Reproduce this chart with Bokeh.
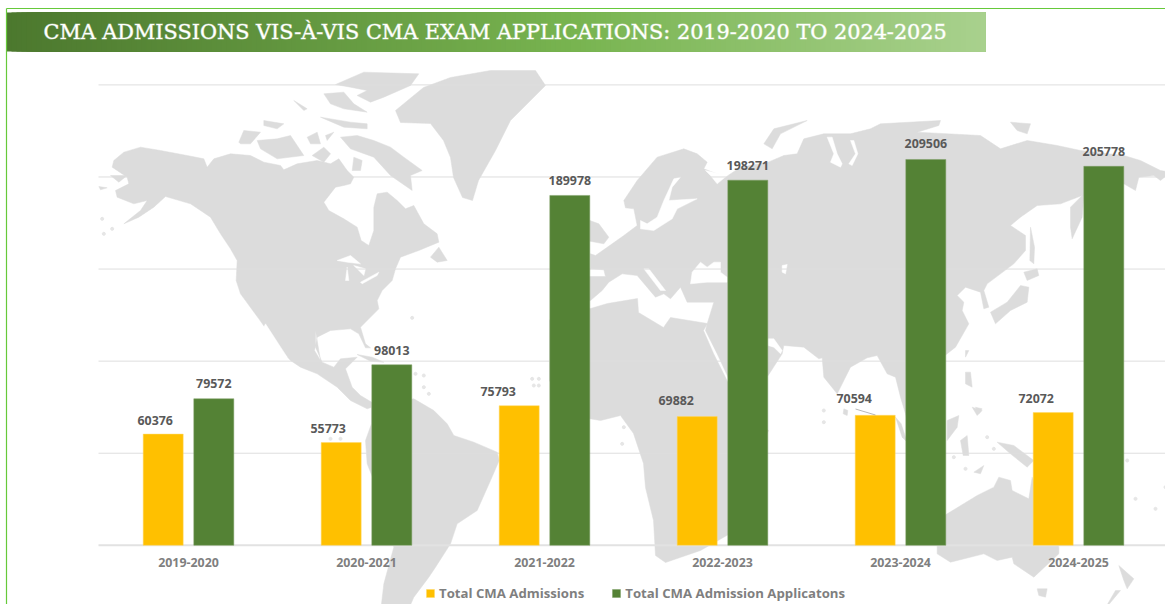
from bokeh.plotting import figure
from bokeh.embed import file_html
from bokeh.resources import INLINE
from bokeh.models import Range1d, LinearAxis, FixedTicker, Legend, LegendItem
from bokeh.core.properties import value

YEARS = ["2019-2020", "2020-2021", "2021-2022", "2022-2023", "2023-2024", "2024-2025"]
ADMISSIONS = [60376, 55773, 75793, 69882, 70594, 72072]
APPLICATIONS = [79572, 98013, 189978, 198271, 209506, 205778]
GRID_VALUES = [0, 50000, 100000, 150000, 200000, 250000]
TITLE = "CMA ADMISSIONS VIS-À-VIS CMA EXAM APPLICATIONS: 2019-2020 TO 2024-2025"
SERIES_NAMES = ["Total CMA Admissions", "Total CMA Admission Applicatons"]

# decorative world map in page pixels
Z5, Z6, Z7, Z8, Z3 = (90, 60), (300, 330), (540, 120), (840, 120), (780, 380)
def tr(z, pts):
    return [(z[0] + a / 3, z[1] + b / 3) for a, b in pts]

NORTH_AMERICA = tr(Z5, [(65,320),(70,300),(100,275),(150,260),(210,270),(290,285),(340,295),(350,320),(370,295),(420,280),(480,285),(520,305),(570,315),(580,328),(620,310),(680,300),(720,310),(745,295),(770,330),(790,350),(780,370),(760,375),(735,380),(700,425),(715,450),(760,475),(800,500),(812,540),(835,555),(850,510),(850,440),(860,400),(890,395),(920,420),(945,445),(970,435),(1000,490),(1040,520),(1045,545),(985,570),(930,590),(915,625),(905,660),(875,690),(860,720),(865,745),(830,780),(810,800),(825,850),(840,862),(825,862),(805,820),(780,805),(720,810),(680,830),(672,870),(690,900)]) \
  + tr(Z6, [(45,0),(45,50),(65,95),(100,110),(120,85),(170,80),(135,115),(155,170),(180,195),(230,225),(200,235),(150,210),(110,170),(50,130),(0,110)]) \
  + tr(Z5, [(600,900),(565,860),(505,775),(450,700),(437,660),(440,600),(420,565),(390,520),(360,470),(300,430),(225,408),(190,440),(145,470),(100,490),(150,450),(170,420),(130,430),(80,410),(75,390),(115,370),(110,350)])
SOUTH_AMERICA = tr(Z6, [(213,225),(340,205),(400,240),(440,280),(460,315),(520,335),(590,365),(596,390),(570,450),(530,540),(470,580),(450,640),(405,710),(385,740),(340,800),(320,846),(240,846),(250,760),(280,650),(240,500),(200,400),(195,330),(213,280)])
GREENLAND = [(395,110),(423,87),(450,77),(490,70),(535,70),(545,85),(510,120),(495,150),(478,180),(472,200),(462,197),(453,177),(450,157),(443,140),(430,123),(400,122)]
ARCTIC_ISLES = [tr(Z5, s) for s in [
    [(735,72),(820,35),(985,40),(960,75),(880,110),(840,125),(800,105),(830,90),(780,80)],
    [(700,100),(760,95),(790,130),(830,155),(760,145),(720,130)],
    [(445,245),(460,210),(510,215),(480,250),(450,250)],
    [(500,240),(560,235),(600,225),(640,285),(560,295),(510,265)],
    [(750,230),(800,225),(850,240),(900,260),(940,290),(995,330),(960,345),(965,390),(900,345),(850,290),(780,265)],
    [(520,180),(580,190),(560,205),(520,195)],
    [(650,230),(680,215),(690,250),(660,250)],
    [(705,225),(730,215),(710,240)],
    [(790,290),(815,300),(810,330),(785,330)],
    [(665,285),(700,260),(720,280),(700,305)],
    [(610,120),(650,145),(640,150)],
    [(690,170),(780,185),(830,190),(830,205),(760,200)],
    [(1020,590),(1045,560),(1070,600),(1040,605)],
    [(60,345),(110,345),(85,365)],
    [(25,378),(50,382),(30,388)],
]]
EURASIA = tr(Z7, [(165,405),(215,370),(250,345),(290,315),(280,265),(255,262),(250,240),(290,180),(350,110),(430,85),(470,100),(500,125),(490,145),(555,170),(600,140),(683,125),(730,105),(770,100),(790,55),(850,40),(930,40),(990,25),(1020,10)]) \
  + tr(Z8, [(300,0),(295,15),(230,35),(420,45),(480,85),(560,60),(650,75),(720,90),(850,105),(900,120),(960,150),(990,155),(960,180),(940,165),(895,170),(885,210),(850,190),(790,215),(730,225),(725,290),(695,355),(690,320),(690,260),(725,225),(660,250),(590,255),(540,290),(510,315),(555,345),(555,390),(520,430),(440,490),(430,510),(445,560),(430,565),(420,515),(375,500),(350,525),(370,545),(365,570),(385,610),(345,680),(316,703),(250,740),(240,800),(230,880),(200,900),(195,880),(180,830),(165,770),(140,760),(110,705),(80,712),(30,740)]) \
  + tr(Z3, [(170,40)]) \
  + tr(Z7, [(850,770),(845,712),(835,715),(790,680),(730,675),(725,700),(683,765),(620,800),(565,775),(530,700),(495,630),(500,610),(520,545),(440,545),(420,500),(390,535),(370,520),(345,530),(290,465),(245,460),(205,485),(185,510),(150,540),(130,540),(130,468),(195,468),(190,448),(150,445),(150,400)])
AFRICA = [(560,300),(590,308),(607,303),(637,298),(638,312),(663,327),(670,317),(707,323),(703,330),(713,353),(728,383),(745,410),(768,430),(740,490),(735,530),(700,550),(665,562),(655,555),(653,520),(645,487),(643,463),(633,433),(620,415),(600,420),(570,415),(549,380),(549,320)]
AUSTRALIA = tr(Z3, [(470,420),(500,400),(590,345),(640,320),(655,290),(690,300),(695,330),(745,355),(755,290),(835,500),(835,520),(760,590),(700,550),(695,530),(650,540),(610,520),(510,545),(470,520)])
OTHER_ISLES = [tr(Z7, [(148,300),(175,310),(205,350),(190,370),(148,362)]),
    tr(Z7, [(670,70),(700,25),(800,0),(720,40),(695,85)]),
    tr(Z6, [(170,72),(215,80),(250,95),(210,92)]),
    tr(Z8, [(450,575),(500,545),(540,495),(565,500),(560,545),(510,570),(465,610)]),
    tr(Z8, [(550,455),(590,445),(595,465),(560,480)]),
    tr(Z8, [(570,320),(582,380),(580,430),(568,420)]),
    tr(Z8, [(375,690),(385,690),(375,710)]),
    tr(Z8, [(375,755),(390,755),(395,800),(375,790)]),
    tr(Z8, [(395,860),(425,870),(410,885)]),
    tr(Z8, [(10,865),(22,870),(20,885),(8,880)]),
    tr(Z8, [(510,5),(570,10),(560,40),(530,30)]),
    tr(Z3, [(345,110),(362,130),(380,185),(365,170)]),
    tr(Z3, [(500,120),(535,105),(530,140),(500,180)]),
    tr(Z3, [(585,80),(605,85),(595,100)]),
    tr(Z3, [(540,180),(560,165),(565,225),(548,225)]),
    tr(Z3, [(650,185),(700,195),(760,240),(740,260),(690,220)]),
    tr(Z3, [(580,275),(610,255),(600,280)]),
    tr(Z3, [(770,625),(800,625),(795,650),(775,645)]),
    tr(Z3, [(1015,555),(1060,595),(1040,625),(1030,600)]),
    tr(Z3, [(1020,630),(970,690),(1005,630)]),
]
WATER = [tr(Z5, s) for s in [
    [(740,600),(780,585),(810,610),(770,605)],
    [(770,620),(775,660),(765,660)],
    [(790,615),(825,625),(820,645)],
    [(810,665),(865,635),(860,645),(815,670)],
    [(525,790),(590,890),(575,890),(520,800)],
]] + [tr(Z7, s) for s in [
    [(300,300),(320,310),(350,290),(370,240),(400,175),(420,170),(395,200),(385,240),(470,235),(440,250),(410,265),(395,295),(340,330),(300,325)],
    [(450,490),(455,455),(480,425),(500,440),(520,425),(540,425),(540,455),(560,470),(560,485),(500,485)],
    [(725,435),(740,432),(735,460),(725,455)],
    [(683,655),(700,655),(725,690),(720,700),(700,680),(683,675)],
    [(310,445),(325,445),(375,510),(360,510)],
    [(495,150),(560,165),(530,190),(510,165)],
    [(860,50),(880,100),(870,125),(900,140),(905,130),(890,100),(875,50)],
    [(930,60),(945,100),(925,130),(935,135),(952,100),(940,60)],
]]
DOTS = tr(Z6, [(345,130),(370,135),(370,170),(385,190),(695,145),(715,145),(700,165),(715,165),(90,325),(120,325),(970,290),(965,340)]) \
     + tr(Z3, [(130,90),(130,125),(520,230),(555,265),(620,170),(640,205),(1065,355),(1125,385),(1155,320),(1040,240)]) \
     + tr(Z5, [(40,520),(65,505),(35,475),(965,772)])

CENTER0, STEP, BASE_PX, PER_PX = 188.0, 178.0, 544.8, 543.0
W, H = 1165, 604
DODGE = 25.3 / STEP
BAR_W = 40 / STEP
# label shift from the bar's centre, in pixels (Excel moved a few of them by hand)
GOLD_DX = [-8, -13, -21, -21, -21, -17]
GOLD_DY = [-4, -4, -4, -6, -7, -4]
GREEN_DY = [-5, -4, -5, -5, -6, -5]

p = figure(width=W, height=H, toolbar_location=None, output_backend="svg",
           x_range=Range1d(-CENTER0 / STEP, (W - CENTER0) / STEP),
           y_range=Range1d((BASE_PX - H) * PER_PX, BASE_PX * PER_PX),
           x_axis_location=None, y_axis_location=None, min_border=0,
           outline_line_color=None, background_fill_color="white")
p.grid.visible = False
p.extra_x_ranges["px"] = Range1d(0, W)
p.extra_y_ranges["px"] = Range1d(H, 0)
PX = dict(x_range_name="px", y_range_name="px")

LAND = [NORTH_AMERICA, SOUTH_AMERICA, GREENLAND, EURASIA, AFRICA, AUSTRALIA] + ARCTIC_ISLES + OTHER_ISLES
p.patches([[a for a, _ in s] for s in LAND], [[b for _, b in s] for s in LAND],
          fill_color="#dcdcdc", line_color="#dcdcdc", line_width=0.5, **PX)
p.patches([[a for a, _ in s] for s in WATER], [[b for _, b in s] for s in WATER],
          fill_color="white", line_color="white", line_width=0.5, **PX)
p.scatter([a for a, _ in DOTS], [b for _, b in DOTS], size=3, color="#e6e6e6", **PX)

# gridlines and base line
p.segment([98] * 5, GRID_VALUES[1:], [1167] * 5, GRID_VALUES[1:], x_range_name="px",
          line_color="#dedede", line_width=1)
p.segment([98], [0], [1167], [0], x_range_name="px", line_color="#e2e2e2", line_width=2)

# title band
def mix(c1, c2, t):
    return "#%02x%02x%02x" % tuple(round(a + (b - a) * t) for a, b in zip(c1, c2))
STOPS = [(0.0, (0x4c, 0x78, 0x2e)), (0.58, (0x78, 0xb4, 0x50)), (1.0, (0xa9, 0xd1, 0x8e))]
BAND_L, BAND_R, STEPS = 6.0, 985.0, 196
lefts, colors = [], []
for k in range(STEPS):
    t = k / STEPS
    a, b = (STOPS[0], STOPS[1]) if t < STOPS[1][0] else (STOPS[1], STOPS[2])
    colors.append(mix(a[1], b[1], (t - a[0]) / (b[0] - a[0])))
    lefts.append(BAND_L + (BAND_R - BAND_L) * t)
p.quad(left=lefts, right=[BAND_R] * STEPS, top=[12] * STEPS, bottom=[51] * STEPS,
       fill_color=colors, line_color=None, **PX)
p.text([43], [31], text=[TITLE], text_color="white", text_font=value("DejaVu Serif"),
       text_font_size="20.8px", text_baseline="alphabetic",
       text_outline_color="rgba(255,255,255,0.45)", **PX)

# frame lines
p.segment([6], [8], [W], [8], line_color="#66c93a", line_width=1.2, **PX)
p.segment([6], [8], [6], [H], line_color="#66c93a", line_width=1.2, **PX)

# bars
idx = list(range(len(YEARS)))
gold = p.vbar(x=[i - DODGE for i in idx], top=ADMISSIONS, width=BAR_W, bottom=0,
              fill_color="#ffc000", line_color="#ffd966", line_width=0.5)
green = p.vbar(x=[i + DODGE for i in idx], top=APPLICATIONS, width=BAR_W, bottom=0,
               fill_color="#548235", line_color="#7f9f66", line_width=0.5)

LABEL = dict(text_font=value("Open Sans"), text_font_size="12.4px", text_font_style="bold",
             text_color="#595959", text_align="center", text_baseline="alphabetic")
p.text(x=[i - DODGE for i in idx], y=ADMISSIONS, text=[str(v) for v in ADMISSIONS],
       x_offset=GOLD_DX, y_offset=[d - 10 for d in GOLD_DY], **LABEL)
p.text(x=[i + DODGE for i in idx], y=APPLICATIONS, text=[str(v) for v in APPLICATIONS],
       y_offset=[d - 10 for d in GREEN_DY], **LABEL)
# leader line of the moved label
p.segment([855], [408.5], [875], [414.5], line_color="#a6a6a6", line_width=0.8, **PX)

# category axis sitting on the zero line
ax = LinearAxis(ticker=FixedTicker(ticks=idx), fixed_location=0,
                major_label_overrides={i: y for i, y in zip(idx, YEARS)})
ax.axis_line_color = None
ax.major_tick_line_color = None
ax.minor_tick_line_color = None
ax.major_label_text_font = "Open Sans"
ax.major_label_text_font_size = "12.4px"
ax.major_label_text_font_style = "bold"
ax.major_label_text_color = "#7f7f7f"
ax.major_label_standoff = 7
p.add_layout(ax, "below")

legend = Legend(items=[LegendItem(label=SERIES_NAMES[0], renderers=[gold]),
                       LegendItem(label=SERIES_NAMES[1], renderers=[green])],
                orientation="horizontal", location=(425, 2), padding=0, margin=0,
                spacing=27, glyph_width=10, glyph_height=10, label_standoff=4,
                background_fill_alpha=0, border_line_color=None,
                label_text_font="Open Sans", label_text_font_size="13.2px",
                label_text_font_style="bold", label_text_color="#7f7f7f")
p.add_layout(legend, "center")

open("out.html", "w").write(file_html(p, INLINE))
